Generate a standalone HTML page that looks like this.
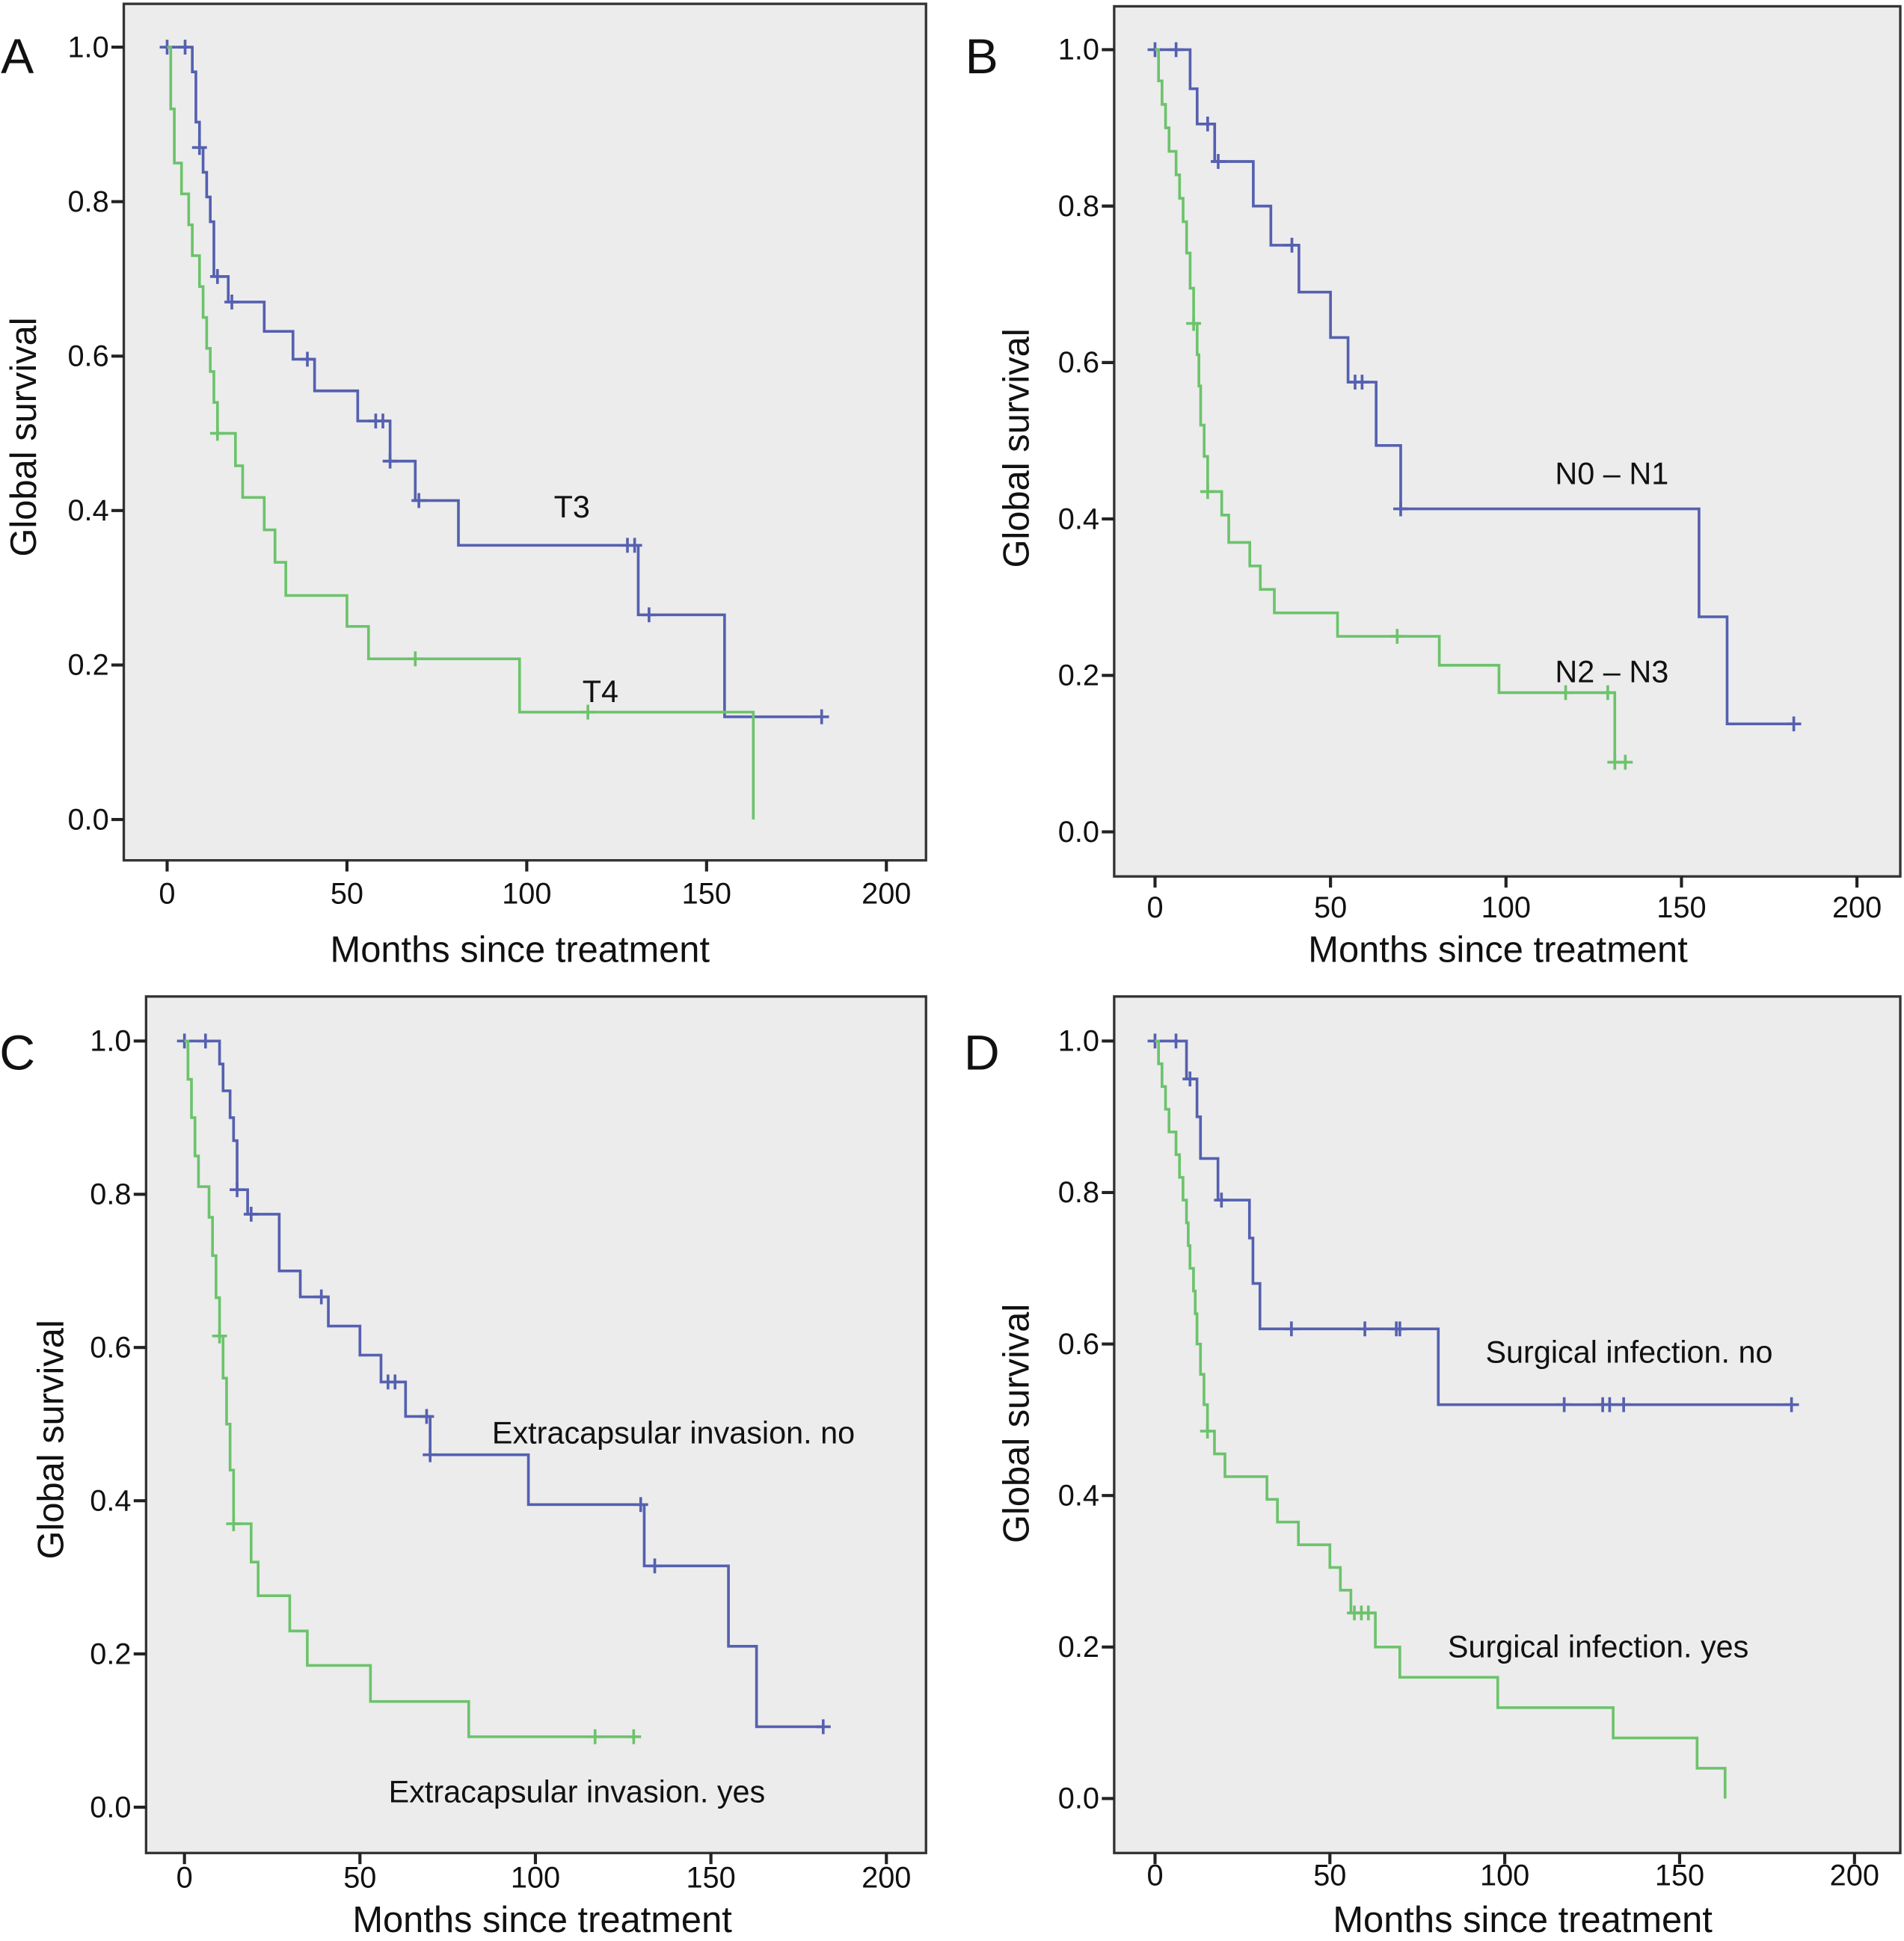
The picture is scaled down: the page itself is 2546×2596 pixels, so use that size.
<!DOCTYPE html>
<html><head><meta charset="utf-8"><style>
html,body{margin:0;padding:0;background:#fff}
svg{display:block}
text{font-family:"Liberation Sans",sans-serif;fill:#111}
</style></head><body>
<svg id="c" width="2546" height="2596" viewBox="0 0 1538 1568" xmlns="http://www.w3.org/2000/svg"></svg>
<script>
// Panel A
const aBlueT=[7,8,9,10,11,12,13,17,27,35,41,53,62,69,81,131,155];
const aBlueS=[0.968,0.903,0.87,0.838,0.806,0.774,0.703,0.67,0.632,0.596,0.555,0.516,0.464,0.413,0.355,0.265,0.133];
const aBlueC=[0,5,9,14,18,39,58,60,62,70,128,130,134,182];
const aGreenT=[1,2,4,6,7,9,10,11,12,13,14,19,21,27,30,33,50,56,98,163];
const aGreenS=[0.92,0.85,0.81,0.77,0.73,0.69,0.65,0.61,0.58,0.54,0.5,0.458,0.417,0.375,0.333,0.29,0.25,0.208,0.139,0];
const aGreenC=[14,69,117];
// Panel B
const bBlueT=[10,12,17,28,33,41,50,55,63,70,155,163];
const bBlueS=[0.95,0.905,0.857,0.8,0.75,0.69,0.632,0.575,0.494,0.413,0.275,0.138];
const bBlueC=[0,6,15,18,39,57,59,70,182];
const bGreenT=[1,2,3,4,6,7,8,9,10,11,12,12.5,13,14,15,19,21,27,30,34,52,81,98,131];
const bGreenS=[0.96,0.93,0.9,0.87,0.84,0.81,0.78,0.74,0.695,0.65,0.61,0.57,0.52,0.48,0.435,0.405,0.37,0.34,0.31,0.28,0.25,0.213,0.178,0.089];
const bGreenC=[11,15,69,117,129,131,134];
// Panel C
const cBlueT=[10,11,13,14,15,18,27,33,41,50,56,63,70,98,131,155,163];
const cBlueS=[0.97,0.935,0.9,0.87,0.806,0.774,0.70,0.666,0.628,0.59,0.555,0.51,0.46,0.395,0.315,0.21,0.105];
const cBlueC=[0,6,15,19,39,58,60,69,70,130,134,182];
const cGreenT=[1,2,3,4,7,8,9,10,11,12,13,14,19,21,30,35,53,81];
const cGreenS=[0.95,0.9,0.85,0.81,0.77,0.72,0.665,0.615,0.56,0.5,0.44,0.37,0.32,0.276,0.23,0.185,0.138,0.092];
const cGreenC=[10,14,117,128];
// Panel D
const dBlueT=[9,12,13,18,27,28,30,81];
const dBlueS=[0.95,0.9,0.845,0.79,0.74,0.68,0.62,0.52];
const dBlueC=[0,6,10,19,39,60,69,70,117,128,130,134,182];
const dGreenT=[1,2,3,4,6,7,8,9,9.5,10,11,11.5,12,13,14,15,17,20,32,35,41,50,53,56,63,70,98,131,155,163];
const dGreenS=[0.97,0.94,0.91,0.88,0.85,0.82,0.79,0.76,0.73,0.7,0.67,0.64,0.6,0.56,0.52,0.485,0.455,0.425,0.395,0.365,0.335,0.305,0.275,0.245,0.2,0.16,0.12,0.08,0.04,0];
const dGreenC=[15,57,59,61];
const xTicks=[0,50,100,150,200];
const yTicks=[0,0.2,0.4,0.6,0.8,1.0];

const NS="http://www.w3.org/2000/svg";
const svg=document.getElementById('c');
function mk(tag,attrs,parent){const e=document.createElementNS(NS,tag);for(const k in attrs)e.setAttribute(k,attrs[k]);(parent||svg).appendChild(e);return e;}

const panels=[
 {id:'a',letter:'A',fx0:100,fy0:3,fx1:748,fy1:695,x0:135,x200:716,y1:38,y0:662,ytx:88,xty:722,
  blue:[aBlueT,aBlueS,aBlueC],green:[aGreenT,aGreenS,aGreenC],
  labels:[['T3',462,418,'middle'],['T4',485,567,'middle']],yt:[18,353],xt:[420,777],L:[14,45]},
 {id:'b',letter:'B',fx0:900,fy0:5,fx1:1535,fy1:708,x0:933,x200:1500,y1:40,y0:672,ytx:888,xty:733,
  blue:[bBlueT,bBlueS,bBlueC],green:[bGreenT,bGreenS,bGreenC],
  labels:[['N0 – N1',1302,391,'middle'],['N2 – N3',1302,551,'middle']],yt:[820,362],xt:[1210,777],L:[793,45]},
 {id:'c',letter:'C',fx0:118,fy0:805,fx1:748,fy1:1497,x0:149,x200:716,y1:841,y0:1460,ytx:106,xty:1517,
  blue:[cBlueT,cBlueS,cBlueC],green:[cGreenT,cGreenS,cGreenC],
  labels:[['Extracapsular invasion. no',544,1166,'middle'],['Extracapsular invasion. yes',466,1456,'middle']],yt:[40,1163],xt:[438,1561],L:[14,850]},
 {id:'d',letter:'D',fx0:900,fy0:805,fx1:1535,fy1:1497,x0:933,x200:1498,y1:841,y0:1453,ytx:888,xty:1515,
  blue:[dBlueT,dBlueS,dBlueC],green:[dGreenT,dGreenS,dGreenC],
  labels:[['Surgical infection. no',1316,1101,'middle'],['Surgical infection. yes',1291,1339,'middle']],yt:[820,1150],xt:[1230,1561],L:[793,850]}
];

panels.forEach(p=>{
 const g=mk('g',{});
 
 
 const X=t=>p.x0+(p.x200-p.x0)*t/200;
 const Y=s=>p.y0-(p.y0-p.y1)*s;
 const fr=mk('rect',{x:p.fx0,y:p.fy0,width:p.fx1-p.fx0,height:p.fy1-p.fy0,fill:'#ececec',stroke:'#333','stroke-width':2},g);
 
 
 yTicks.forEach(v=>{
  mk('line',{x1:p.fx0-10,x2:p.fx0,y1:Y(v),y2:Y(v),stroke:'#222','stroke-width':2.5},g);
  const t=mk('text',{x:p.ytx,y:Y(v)+8,'font-size':24,'text-anchor':'end'},g);t.textContent=v.toFixed(1);
  
  
 });
 xTicks.forEach(v=>{
  mk('line',{x1:X(v),x2:X(v),y1:p.fy1,y2:p.fy1+9,stroke:'#222','stroke-width':2.5},g);
  const t=mk('text',{x:X(v),y:p.xty+8,'font-size':24,'text-anchor':'middle'},g);t.textContent=v;
  
  
 });
 [['blue','#5560b0'],['green','#6cc36c']].forEach(([k,col])=>{
  const [T,S,C]=p[k];
  let d='M'+X(0)+','+Y(1);
  T.forEach((t,i)=>{d+=' H'+X(t)+' V'+Y(S[i]);});
  const last=Math.max(T[T.length-1],...C);
  d+=' H'+X(last);
  const path=mk('path',{d:d,fill:'none',stroke:col,'stroke-width':2.2},g);
  
  
  C.forEach(c=>{
   let sv=1;T.forEach((t,i)=>{if(t<=c)sv=S[i];});
   const cx=X(c),cy=Y(sv);
   const m=mk('path',{d:`M${cx-6},${cy} H${cx+6} M${cx},${cy-6} V${cy+6}`,stroke:col,'stroke-width':2.2},g);
   
   
  });
 });
 p.labels.forEach(l=>{
  const t=mk('text',{x:l[1],y:l[2],'font-size':25,'text-anchor':l[3]},g);t.textContent=l[0];
  
  
 });
 const yt=mk('text',{x:p.yt[0],y:p.yt[1],'font-size':29.5,'text-anchor':'middle',transform:`rotate(-90 ${p.yt[0]} ${p.yt[1]}) translate(0 11)`},g);
 yt.textContent='Global survival';
 
 
 const xt=mk('text',{x:p.xt[0],y:p.xt[1],'font-size':29.5,'text-anchor':'middle'},g);
 xt.textContent='Months since treatment';
 
 
 const L=mk('text',{x:p.L[0],y:p.L[1]+14,'font-size':40,'text-anchor':'middle'},g);
 L.textContent=p.letter;
 
 
});
</script>
</body></html>
